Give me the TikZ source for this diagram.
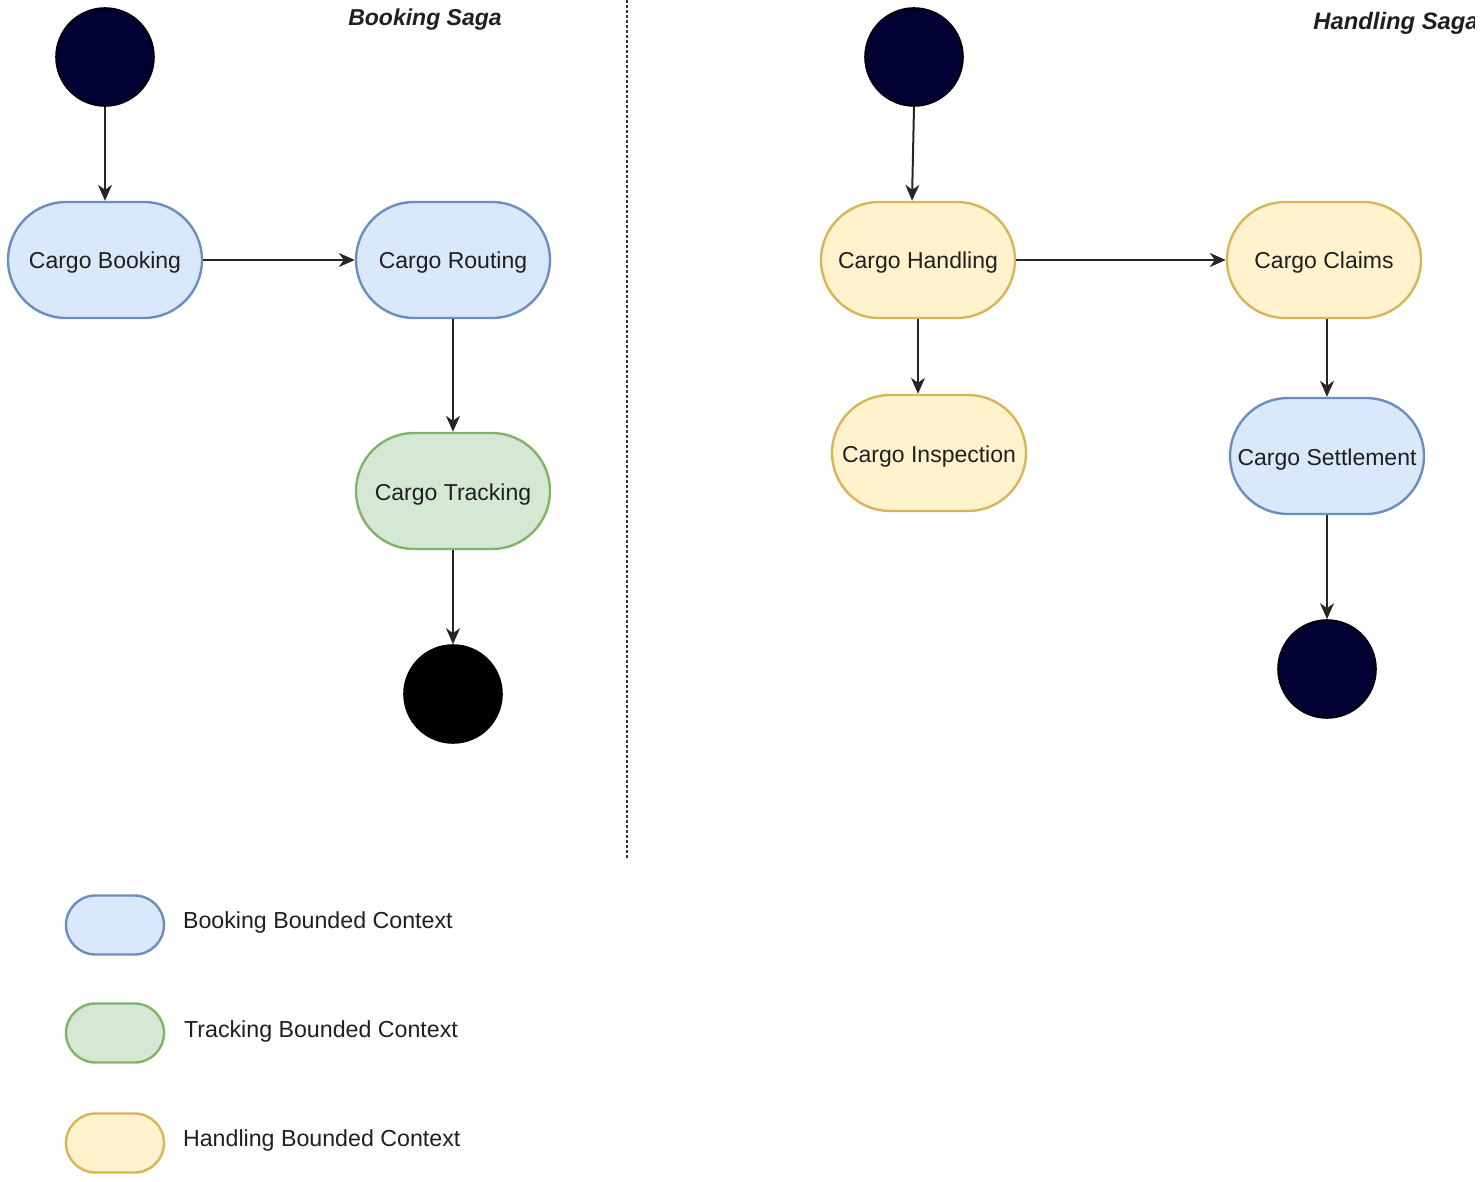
\documentclass[tikz,border=0pt]{standalone}
\usepackage{fontspec}
\setmainfont{Liberation Sans}
\usetikzlibrary{arrows.meta}
\definecolor{bfill}{HTML}{DAE8FC}\definecolor{bdraw}{HTML}{6C8EBF}
\definecolor{gfill}{HTML}{D5E8D4}\definecolor{gdraw}{HTML}{82B366}
\definecolor{yfill}{HTML}{FFF2CC}\definecolor{ydraw}{HTML}{D6B656}
\definecolor{navy}{HTML}{000033}
\tikzset{
  state/.style={rectangle, rounded corners=29pt, minimum width=97pt, minimum height=58pt, inner sep=0pt, line width=1.2pt, font=\fontsize{11.5}{13}\selectfont, text=black!88, text height=9pt, text depth=0pt},
  bstate/.style={state, fill=bfill, draw=bdraw},
  gstate/.style={state, fill=gfill, draw=gdraw},
  ystate/.style={state, fill=yfill, draw=ydraw},
  legbox/.style={rectangle, rounded corners=14.75pt, minimum width=49pt, minimum height=29.5pt, inner sep=0pt, line width=1.2pt},
  startnode/.style={circle, minimum size=49pt, inner sep=0pt, fill=navy, draw=black, line width=0.8pt},
  endnode/.style={circle, minimum size=49pt, inner sep=0pt, fill=black, draw=black, line width=0.8pt},
  flow/.style={draw=black!85, line width=1pt, -{Stealth[length=8pt,width=7pt,inset=2.5pt]}},
  title/.style={font=\fontsize{11.5}{13}\selectfont\bfseries\itshape, text=black!88},
  legtext/.style={anchor=west, font=\fontsize{11.6}{13}\selectfont, text=black!88}
}
\begin{document}
\begin{tikzpicture}[x=0.5pt,y=-0.5pt]
\useasboundingbox (0,0) rectangle (1482,1182);
% titles
\node[title] (t1title) at (425,20) {Booking Saga};
\begin{scope}
\clip (0,0) rectangle (1474,1182);
\node[title, font=\fontsize{11.9}{13}\selectfont\bfseries\itshape, anchor=west, inner sep=0pt] (t2title) at (1313,23) {Handling Saga};
\end{scope}
% divider
\coordinate (d1) at (627,0);
\coordinate (d2) at (627,858);
\draw[line width=1pt, dash pattern=on 1.5pt off 1pt, black!80] (d1) -- (d2);
% booking saga
\node[startnode] (s1) at (105,57) {};
\node[bstate] (b1) at (105,260) {Cargo Booking};
\node[bstate] (b2) at (453,260) {Cargo Routing};
\node[gstate] (tr) at (453,491) {Cargo Tracking};
\node[endnode] (e1) at (453,694) {};
\draw[flow] (s1) -- (b1);
\draw[flow] (b1) -- (b2);
\draw[flow] (b2) -- (tr);
\draw[flow] (tr) -- (e1);
% handling saga
\node[startnode] (s2) at (914,57) {};
\node[ystate] (h1) at (918,260) {Cargo Handling};
\node[ystate] (h2) at (1324,260) {Cargo Claims};
\node[ystate] (h3) at (929,453) {Cargo Inspection};
\node[bstate] (b3) at (1327,456) {Cargo Settlement};
\node[startnode] (e2) at (1327,669) {};
\draw[flow] (s2.south) -- ([xshift=-3pt]h1.north);
\draw[flow] (h1) -- (h2);
\draw[flow] (h1.south) -- (h1.south |- h3.north);
\draw[flow] (b3.north |- h2.south) -- (b3.north);
\draw[flow] (b3) -- (e2);
% legend
\node[legbox, fill=bfill, draw=bdraw] (l1) at (115,925) {};
\node[legbox, fill=gfill, draw=gdraw] (l2) at (115,1033) {};
\node[legbox, fill=yfill, draw=ydraw] (l3) at (115,1143) {};
\node[legtext] (lt1) at (176,922) {Booking Bounded Context};
\node[legtext] (lt2) at (177,1031) {Tracking Bounded Context};
\node[legtext] (lt3) at (176,1140) {Handling Bounded Context};
\end{tikzpicture}
\end{document}
